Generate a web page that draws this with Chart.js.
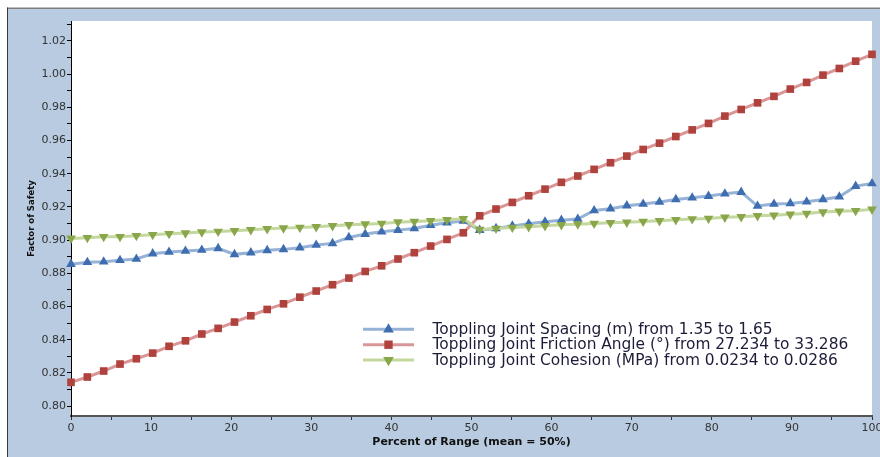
<!DOCTYPE html>
<html><head><meta charset="utf-8">
<script src="https://cdn.jsdelivr.net/npm/chart.js@4/dist/chart.umd.min.js"></script>
<style>html,body{margin:0;padding:0;background:#fff;overflow:hidden}canvas{display:block}</style>
</head><body>
<canvas id="c" width="880" height="457"></canvas>
<script>
// ---- data ----
const xValues = [0, 2.04, 4.08, 6.12, 8.16, 10.2, 12.24, 14.29, 16.33, 18.37,
  20.41, 22.45, 24.49, 26.53, 28.57, 30.61, 32.65, 34.69, 36.73, 38.78,
  40.82, 42.86, 44.9, 46.94, 48.98, 51.02, 53.06, 55.1, 57.14, 59.18,
  61.22, 63.27, 65.31, 67.35, 69.39, 71.43, 73.47, 75.51, 77.55, 79.59,
  81.63, 83.67, 85.71, 87.76, 89.8, 91.84, 93.88, 95.92, 97.96, 100];
const spacingFoS = [0.8855, 0.8866, 0.8869, 0.8878, 0.8886, 0.8918, 0.8928, 0.8934, 0.8940, 0.8950,
  0.8914, 0.8924, 0.8938, 0.8944, 0.8954, 0.8970, 0.8980, 0.9016, 0.9036, 0.9050,
  0.9060, 0.9070, 0.9089, 0.9104, 0.9115, 0.9060, 0.9070, 0.9085, 0.9098, 0.9110,
  0.9120, 0.9127, 0.9178, 0.9189, 0.9207, 0.9217, 0.9229, 0.9245, 0.9255, 0.9265,
  0.9279, 0.9289, 0.9205, 0.9217, 0.9221, 0.9231, 0.9245, 0.9261, 0.9325, 0.9341];
const frictionFoS = [0.8143, 0.8175, 0.8211, 0.8253, 0.8285, 0.8319, 0.8360, 0.8393, 0.8434, 0.8468,
  0.8506, 0.8544, 0.8582, 0.8616, 0.8656, 0.8693, 0.8731, 0.8771, 0.8811, 0.8845,
  0.8886, 0.8924, 0.8964, 0.9004, 0.9044, 0.9146, 0.9187, 0.9227, 0.9267, 0.9307,
  0.9348, 0.9386, 0.9426, 0.9466, 0.9506, 0.9546, 0.9584, 0.9624, 0.9664, 0.9703,
  0.9747, 0.9787, 0.9827, 0.9866, 0.9910, 0.9950, 0.9994, 1.0034, 1.0078, 1.0119];
const cohesionFoS = [0.9010, 0.9014, 0.9020, 0.9020, 0.9026, 0.9032, 0.9038, 0.9042, 0.9048, 0.9052,
  0.9056, 0.9062, 0.9068, 0.9072, 0.9076, 0.9080, 0.9086, 0.9092, 0.9096, 0.9100,
  0.9108, 0.9112, 0.9116, 0.9122, 0.9128, 0.9064, 0.9070, 0.9076, 0.9080, 0.9086,
  0.9092, 0.9096, 0.9100, 0.9104, 0.9107, 0.9112, 0.9116, 0.9122, 0.9127, 0.9130,
  0.9137, 0.9140, 0.9146, 0.9150, 0.9155, 0.9160, 0.9169, 0.9173, 0.9177, 0.9185];
const seriesLabels = [
  'Toppling Joint Spacing (m) from 1.35 to 1.65',
  'Toppling Joint Friction Angle (\u00b0) from 27.234 to 33.286',
  'Toppling Joint Cohesion (MPa) from 0.0234 to 0.0286'
];
const yMajorTicks = ['0.80', '0.82', '0.84', '0.86', '0.88', '0.90', '0.92', '0.94', '0.96', '0.98', '1.00', '1.02'];
const yMinorTicks = [0.81, 0.83, 0.85, 0.87, 0.89, 0.91, 0.93, 0.95, 0.97, 0.99, 1.01, 1.03];
const xMajorTicks = [0, 10, 20, 30, 40, 50, 60, 70, 80, 90, 100];
const xMinorTicks = [5, 15, 25, 35, 45, 55, 65, 75, 85, 95];
const xTitle = 'Percent of Range (mean = 50%)';
const yTitle = 'Factor of Safety';

// ---- styles ----
const FONT = "'DejaVu Sans', Verdana, sans-serif";
const styles = [
  {line: 'rgb(150,178,214)', mark: 'rgb(62,110,176)', shape: 'triangle', rot: 0, r: 5.6, order: 2},
  {line: 'rgb(218,150,150)', mark: 'rgb(176,66,62)', shape: 'rect', rot: 0, r: 5.4, order: 1},
  {line: 'rgb(196,215,158)', mark: 'rgb(138,166,74)', shape: 'triangle', rot: 180, r: 5.6, order: 0}
];
const seriesValues = [spacingFoS, frictionFoS, cohesionFoS];

const datasets = seriesValues.map((vals, k) => ({
  label: seriesLabels[k],
  data: xValues.map((x, i) => ({x: x, y: vals[i]})),
  borderColor: styles[k].line,
  backgroundColor: styles[k].mark,
  pointBackgroundColor: styles[k].mark,
  pointBorderWidth: 0,
  pointRadius: styles[k].r,
  pointHoverRadius: styles[k].r,
  pointStyle: styles[k].shape,
  pointRotation: styles[k].rot,
  borderWidth: 3,
  tension: 0,
  clip: false,
  order: styles[k].order
}));

const bgPlugin = {
  id: 'bg',
  beforeDraw(chart) {
    const c = chart.ctx, a = chart.chartArea;
    c.save();
    c.fillStyle = '#ffffff';
    c.fillRect(0, 0, chart.width, chart.height);
    c.fillStyle = '#b8cbe0';
    c.fillRect(7, 8, chart.width - 7, chart.height - 8);
    c.fillStyle = '#7d7d7d';
    c.fillRect(7, 7.5, chart.width - 7, 1.5);
    c.fillStyle = '#3a3a3a';
    c.fillRect(7, 7.5, 1, chart.height);
    c.fillStyle = '#ffffff';
    c.fillRect(a.left, a.top, a.right - a.left, a.bottom - a.top);
    c.restore();
  }
};

function drawMarker(c, shape, x, y, r, rot) {
  c.beginPath();
  if (shape === 'rect') {
    const s = r * Math.SQRT1_2;
    c.rect(x - s, y - s, 2 * s, 2 * s);
  } else {
    const base = rot * Math.PI / 180;
    for (let j = 0; j < 3; j++) {
      const ang = base + j * 2 * Math.PI / 3;
      const px = x + Math.sin(ang) * r, py = y - Math.cos(ang) * r;
      if (j === 0) c.moveTo(px, py); else c.lineTo(px, py);
    }
    c.closePath();
  }
  c.fill();
}

const legendPlugin = {
  id: 'customLegend',
  afterDraw(chart) {
    const c = chart.ctx;
    const x0 = 363, x1 = 414, tx = 432.5, y0 = 329.3, dy = 15.4;
    c.save();
    chart.data.datasets.forEach((ds, k) => {
      const y = y0 + k * dy;
      c.strokeStyle = ds.borderColor;
      c.lineWidth = 3;
      c.beginPath(); c.moveTo(x0, y); c.lineTo(x1, y); c.stroke();
      c.fillStyle = ds.pointBackgroundColor;
      drawMarker(c, ds.pointStyle, (x0 + x1) / 2, y, ds.pointRadius * 1.1, ds.pointRotation);
      c.fillStyle = '#1c1c38';
      c.font = '15.4px ' + FONT;
      c.textBaseline = 'middle';
      c.textAlign = 'left';
      c.fillText(ds.label, tx, y + 0.5);
    });
    c.restore();
  }
};

new Chart(document.getElementById('c'), {
  type: 'line',
  data: {datasets: datasets},
  plugins: [bgPlugin, legendPlugin],
  options: {
    responsive: false,
    animation: false,
    events: [],
    layout: {padding: {top: 21, right: 8, left: 0, bottom: 0}},
    plugins: {legend: {display: false}, tooltip: {enabled: false}},
    scales: {
      x: {
        type: 'linear', min: 0, max: 100,
        afterBuildTicks: s => { s.ticks = xMajorTicks.concat(xMinorTicks).sort((a, b) => a - b).map(v => ({value: v})); },
        afterFit: s => { s.height = 41; s.paddingLeft = 0; s.paddingRight = 0; },
        ticks: {
          autoSkip: false, maxRotation: 0, padding: 2, color: '#333',
          font: {family: FONT, size: 11},
          callback: v => xMajorTicks.includes(v) ? String(v) : ''
        },
        grid: {drawOnChartArea: false, drawTicks: true, tickLength: 4, tickColor: '#333'},
        border: {color: '#555', width: 2},
        title: {display: true, text: xTitle, color: '#111',
          font: {family: FONT, size: 11, weight: 'bold'}, padding: {top: 0, bottom: 8}}
      },
      y: {
        type: 'linear', min: 0.794, max: 1.032,
        afterBuildTicks: s => { s.ticks = yMajorTicks.map(Number).concat(yMinorTicks).sort((a, b) => a - b).map(v => ({value: v})); },
        afterFit: s => { s.width = 71; s.paddingTop = 0; s.paddingBottom = 0; },
        ticks: {
          autoSkip: false, padding: 1, color: '#333',
          font: {family: FONT, size: 11},
          callback: v => yMajorTicks.find(t => Math.abs(Number(t) - v) < 1e-6) || ''
        },
        grid: {drawOnChartArea: false, drawTicks: true, tickLength: 4, tickColor: '#000'},
        border: {color: '#000', width: 1},
        title: {display: true, text: yTitle, color: '#111',
          font: {family: FONT, size: 8.5, weight: 'bold'}, padding: {top: 27, bottom: 0}}
      }
    }
  }
});
</script>
</body></html>
